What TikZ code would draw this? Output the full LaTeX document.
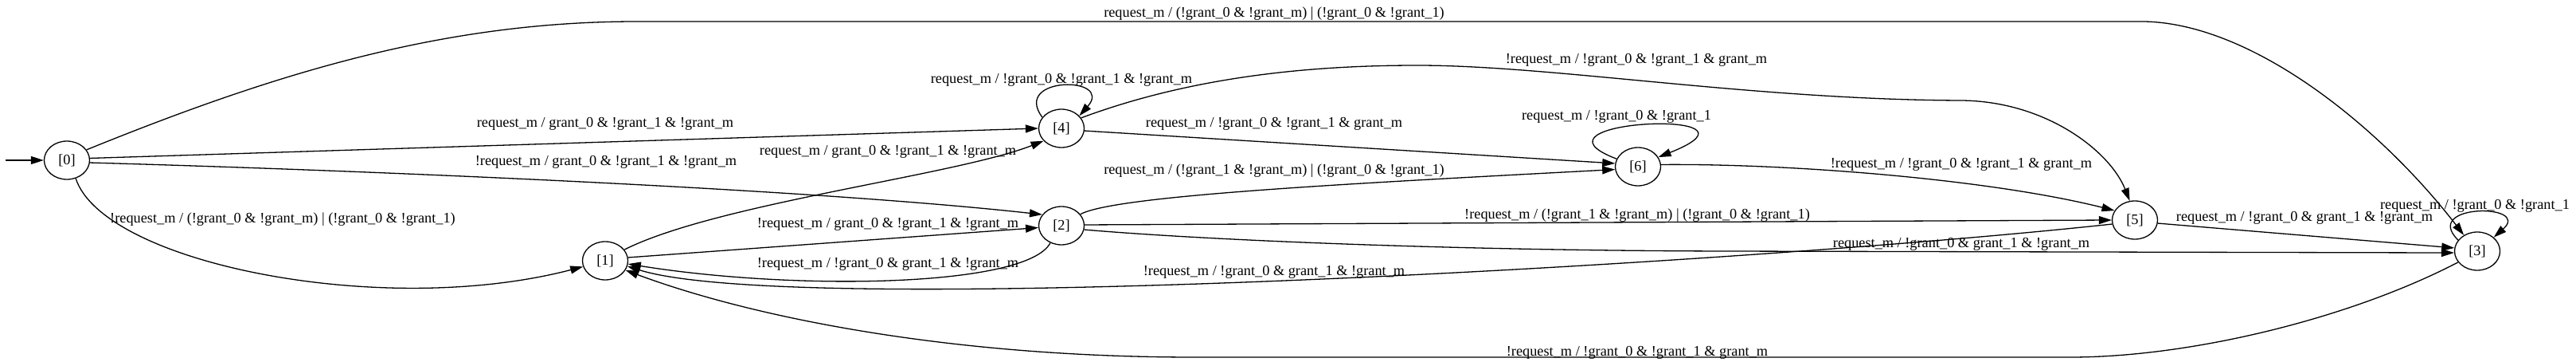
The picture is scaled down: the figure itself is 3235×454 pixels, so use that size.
\documentclass[tikz,border=0pt]{standalone}
\usepackage{fontspec}
\setmainfont{Liberation Serif}
\usetikzlibrary{arrows.meta,shapes.geometric}
\begin{document}
\begin{tikzpicture}[x=1pt,y=-1pt,
  st/.style={draw, ellipse, line width=1.3pt, minimum width=57pt, minimum height=48pt, inner sep=0pt, font=\fontsize{18.3}{20}\selectfont},
  lab/.style={inner sep=0pt, font=\fontsize{18.3}{20}\selectfont, text height=13pt, text depth=4pt},
  e/.style={line width=1.3pt, -{Triangle[length=16pt,width=10pt]}},
]
\useasboundingbox (0,0) rectangle (3235,454);
% states
\node[st] (n0) at (84,201) {[0]};
\node[st] (n1) at (760,327) {[1]};
\node[st] (n2) at (1333,283) {[2]};
\node[st] (n4) at (1333,161) {[4]};
\node[st] (n6) at (2057,209) {[6]};
\node[st] (n5) at (2681,276) {[5]};
\node[st] (n3) at (3111,315) {[3]};
\coordinate (init) at (7,201);
% labels
\node[lab] (l03) at (1600,17) {request\_m / (!grant\_0 \& !grant\_m) | (!grant\_0 \& !grant\_1)};
\node[lab] (l04) at (760,155) {request\_m / grant\_0 \& !grant\_1 \& !grant\_m};
\node[lab] (l02) at (761,203) {!request\_m / grant\_0 \& !grant\_1 \& !grant\_m};
\node[lab] (l01) at (355,275) {!request\_m / (!grant\_0 \& !grant\_m) | (!grant\_0 \& !grant\_1)};
\node[lab] (l44) at (1333,100) {request\_m / !grant\_0 \& !grant\_1 \& !grant\_m};
\node[lab] (l14) at (1115,190) {request\_m / grant\_0 \& !grant\_1 \& !grant\_m};
\node[lab] (l12) at (1115,281) {!request\_m / grant\_0 \& !grant\_1 \& !grant\_m};
\node[lab] (l21) at (1115,331) {!request\_m / !grant\_0 \& grant\_1 \& !grant\_m};
\node[lab] (l46) at (1600,155) {request\_m / !grant\_0 \& !grant\_1 \& grant\_m};
\node[lab] (l26) at (1600,214) {request\_m / (!grant\_1 \& !grant\_m) | (!grant\_0 \& !grant\_1)};
\node[lab] (l45) at (2055,75) {!request\_m / !grant\_0 \& !grant\_1 \& grant\_m};
\node[lab] (l66) at (2030,146) {request\_m / !grant\_0 \& !grant\_1};
\node[lab] (l25) at (2056,270) {!request\_m / (!grant\_1 \& !grant\_m) | (!grant\_0 \& !grant\_1)};
\node[lab] (l65) at (2463,206) {!request\_m / !grant\_0 \& !grant\_1 \& grant\_m};
\node[lab] (l23) at (2463,306) {request\_m / !grant\_0 \& grant\_1 \& !grant\_m};
\node[lab] (l51) at (1600,341) {!request\_m / !grant\_0 \& grant\_1 \& !grant\_m};
\node[lab] (l53) at (2894,273) {request\_m / !grant\_0 \& grant\_1 \& !grant\_m};
\node[lab] (l33) at (3108,258) {request\_m / !grant\_0 \& !grant\_1};
\node[lab] (l31) at (2056,442) {!request\_m / !grant\_0 \& !grant\_1 \& grant\_m};
% edges
\draw[e] (init) -- (n0);
\draw[e] (n0.28) .. controls (350,90) and (560,27) .. (800,27) -- (2693,27) .. controls (2830,30) and (2990,160) .. (n3.130);
\draw[e] (n0.5) -- (n4.180);
\draw[e] (n0.-6) .. controls (400,212) and (1000,235) .. (n2.150);
\draw[e] (n0.-64) .. controls (130,330) and (480,400) .. (n1.195);
\draw[e] (n4.150) .. controls (1270,95) and (1400,95) .. (n4.35);
\draw[e] (n1.30) .. controls (900,255) and (1200,220) .. (n4.215);
\draw[e] (n1.8) -- (n2.185);
\draw[e] (n2.237) .. controls (1290,360) and (1000,365) .. (n1.-8);
\draw[e] (n4.-6) -- (n6.172);
\draw[e] (n4.28) .. controls (1500,95) and (1650,82) .. (1780,82) .. controls (1950,82) and (2200,125) .. (2463,126) .. controls (2570,127) and (2650,190) .. (n5.105);
\draw[e] (n6.160) .. controls (1900,150) and (2240,135) .. (n6.25);
\draw[e] (n2.31) .. controls (1400,245) and (1700,230) .. (n6.187);
\draw[e] (n6.5) .. controls (2250,205) and (2500,225) .. (n5.155);
\draw[e] (n2.2) -- (n5.180);
\draw[e] (n2.-10) .. controls (1500,300) and (1800,314) .. (2165,315) -- (n3.184);
\draw[e] (n5.190) .. controls (2200,330) and (1000,400) .. (n1.-14);
\draw[e] (n5.-8) -- (n3.172);
\draw[e] (n3.150) .. controls (3040,255) and (3180,255) .. (n3.40);
\draw[e] (n3.210) .. controls (2950,400) and (2750,448) .. (2600,448) -- (1500,448) .. controls (1200,448) and (950,400) .. (n1.-25);
\end{tikzpicture}
\end{document}
